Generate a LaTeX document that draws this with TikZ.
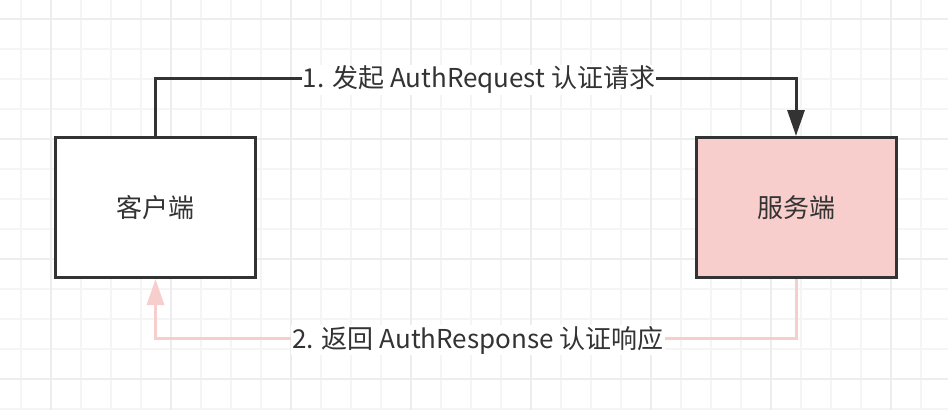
\documentclass[tikz,border=0pt]{standalone}
\usepackage{fontspec}
\setmainfont{Noto Sans CJK SC}
\usetikzlibrary{arrows.meta}
\definecolor{txt}{HTML}{333333}
\definecolor{pinkfill}{HTML}{F8CECC}
\definecolor{pinkline}{HTML}{F8CECC}
\definecolor{gridminor}{HTML}{F5F5F5}
\definecolor{gridmajor}{HTML}{EDEDED}
\tikzset{
  box/.style={draw=txt, line width=3pt, minimum width=200pt, minimum height=140pt, inner sep=0pt, text=txt, font=\fontsize{26}{30}\selectfont},
  lbl/.style={fill=white, text=txt, inner sep=1pt, font=\fontsize{26}{30}\selectfont},
  darkarrow/.style={draw=txt, line width=3pt, -{Triangle[length=26pt,width=17pt]}},
  pinkarrow/.style={draw=pinkline, line width=3pt, -{Triangle[length=26pt,width=17pt]}},
}
\begin{document}
\begin{tikzpicture}[x=1pt,y=-1pt]
\useasboundingbox (0,0) rectangle (948,410);
\fill[white] (0,0) rectangle (948,410);
% grid
\foreach \gx in {21,51,...,951} {\draw[gridminor, line width=1.2pt] (\gx,0) -- (\gx,410);}
\foreach \gy in {19,49,...,409} {\draw[gridminor, line width=1.2pt] (0,\gy) -- (948,\gy);}
\foreach \gx in {51,171,...,951} {\draw[gridmajor, line width=1.2pt] (\gx,0) -- (\gx,410);}
\foreach \gy in {19,139,...,409} {\draw[gridmajor, line width=1.2pt] (0,\gy) -- (948,\gy);}
% boxes
\node[box, fill=white] (client) at (155.5,207.5) {客户端};
\node[box, fill=pinkfill] (server) at (796,207.5) {服务端};
% connectors
\coordinate (c1) at (155.5,78);
\coordinate (c2) at (796,78);
\coordinate (d1) at (796,338);
\coordinate (d2) at (155.5,338);
\draw[darkarrow] (client.north) -- (c1) -- (c2) -- (server.north);
\draw[pinkarrow] (server.south) -- (d1) -- (d2) -- (client.south);
\node[lbl] (l1) at (479,80) {1. 发起 AuthRequest 认证请求};
\node[lbl] (l2) at (478,340) {2. 返回 AuthResponse 认证响应};
\end{tikzpicture}
\end{document}
